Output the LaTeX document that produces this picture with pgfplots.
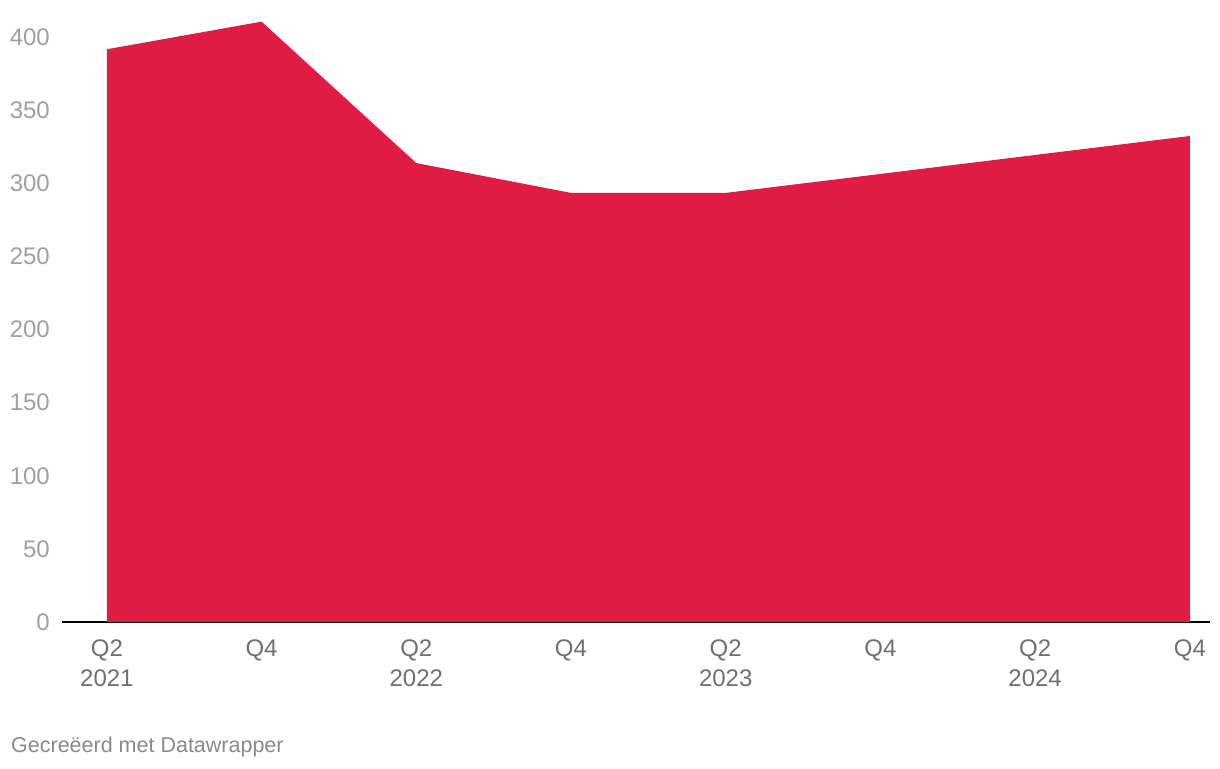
\documentclass[border=0pt]{standalone}
\usepackage{pgfplots}
\pgfplotsset{compat=1.18}
\usepackage{fontspec}
\setmainfont{Liberation Sans}
\definecolor{areacol}{HTML}{E01C44}
\definecolor{ytick}{HTML}{A0A0A0}
\definecolor{xtick}{HTML}{707070}
\definecolor{foot}{HTML}{8A8A8A}
\begin{document}
\begin{tikzpicture}[x=1pt,y=1pt]
\path[use as bounding box] (0,0) rectangle (1220,768);
\begin{axis}[
  at={(62pt,146pt)}, anchor=south west,
  scale only axis, width=1148pt, height=614.25pt,
  xmin=-0.29, xmax=7.13, ymin=0, ymax=420,
  axis x line=bottom, axis y line=left,
  y axis line style={draw=none},
  x axis line style={black, line width=1.6pt, -},
  major tick length=0pt,
  xtick={0,1,2,3,4,5,6,7},
  xticklabels={{Q2\\2021},Q4,{Q2\\2022},Q4,{Q2\\2023},Q4,{Q2\\2024},Q4},
  xticklabel style={align=center, text=xtick, font=\fontsize{24}{30}\selectfont, inner sep=0pt, anchor=north, yshift=-17.5pt},
  ytick={0,50,100,150,200,250,300,350,400},
  yticklabel style={text=ytick, font=\fontsize{24}{30}\selectfont, inner sep=0pt, anchor=east, xshift=-12pt},
  /pgf/number format/assume math mode=true,
  clip=false,
]
\addplot[fill=areacol, draw=none] coordinates {
  (0,391.6) (1,410.5) (2,313.8) (3,293.4) (4,293.4) (7,332.3)
} \closedcycle;
\end{axis}
\node[anchor=base west, text=foot, font=\fontsize{21.5}{26}\selectfont, inner sep=0pt] at (11,16) {Gecreëerd met Datawrapper};
\end{tikzpicture}
\end{document}
